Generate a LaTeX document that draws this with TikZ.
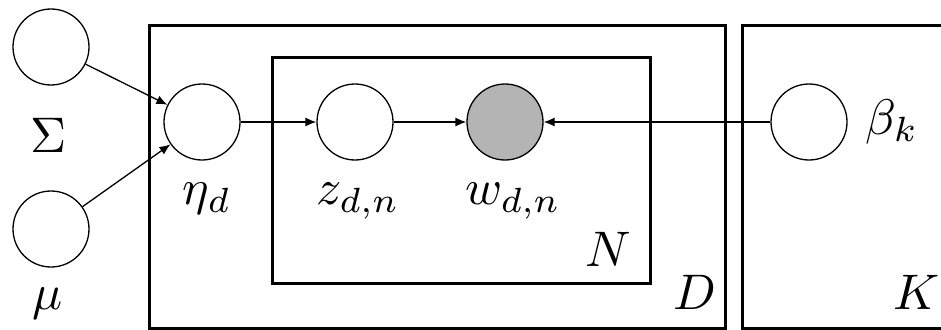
\documentclass[tikz,border=0pt]{standalone}
\usetikzlibrary{arrows.meta}
\definecolor{obsgray}{HTML}{B4B4B4}
\newcommand{\pgmlbl}[1]{\scalebox{5}{$#1$}}
\begin{document}
\begin{tikzpicture}[x=1pt,y=-1pt,
  var/.style={circle,draw=black,line width=1.3pt,minimum size=76pt,inner sep=0pt,fill=white},
  obs/.style={var,fill=obsgray},
  plate/.style={draw=black,line width=3pt,inner sep=0pt,anchor=north west},
  lbl/.style={inner sep=0pt},
  edge/.style={line width=1.3pt,-{Latex[length=11pt,width=9pt]}}]
\useasboundingbox (0,0) rectangle (941,329);
\clip (0,0) rectangle (941,329);
% plates
\node[plate,minimum width=576pt,minimum height=303pt] (Dplate) at (148,24) {};
\node[plate,minimum width=378pt,minimum height=226pt] (Nplate) at (271,56) {};
\node[plate,minimum width=260pt,minimum height=303pt] (Kplate) at (741,24) {};
% variables
\node[var] (sigma) at (51,47) {};
\node[var] (mu) at (51,229) {};
\node[var] (eta) at (202,122) {};
\node[var] (z) at (355,122) {};
\node[obs] (w) at (505,122) {};
\node[var] (beta) at (809,122) {};
% labels
\node[lbl] (lsigma) at (49,135) {\pgmlbl{\Sigma}};
\node[lbl] (lmu) at (48,304) {\pgmlbl{\mu}};
\node[lbl] (leta) at (207,199) {\pgmlbl{\eta_d}};
\node[lbl] (lz) at (358,201) {\pgmlbl{z_{d,n}}};
\node[lbl] (lw) at (513,201) {\pgmlbl{w_{d,n}}};
\node[lbl] (lbeta) at (892,122) {\pgmlbl{\beta_k}};
\node[lbl] (lN) at (608,249) {\pgmlbl{N}};
\node[lbl] (lD) at (695,292) {\pgmlbl{D}};
\node[lbl] (lK) at (917,292) {\pgmlbl{K}};
% edges
\draw[edge] (sigma) -- (eta);
\draw[edge] (mu) -- (eta);
\draw[edge] (eta) -- (z);
\draw[edge] (z) -- (w);
\draw[edge] (beta) -- (w);
\end{tikzpicture}
\end{document}
